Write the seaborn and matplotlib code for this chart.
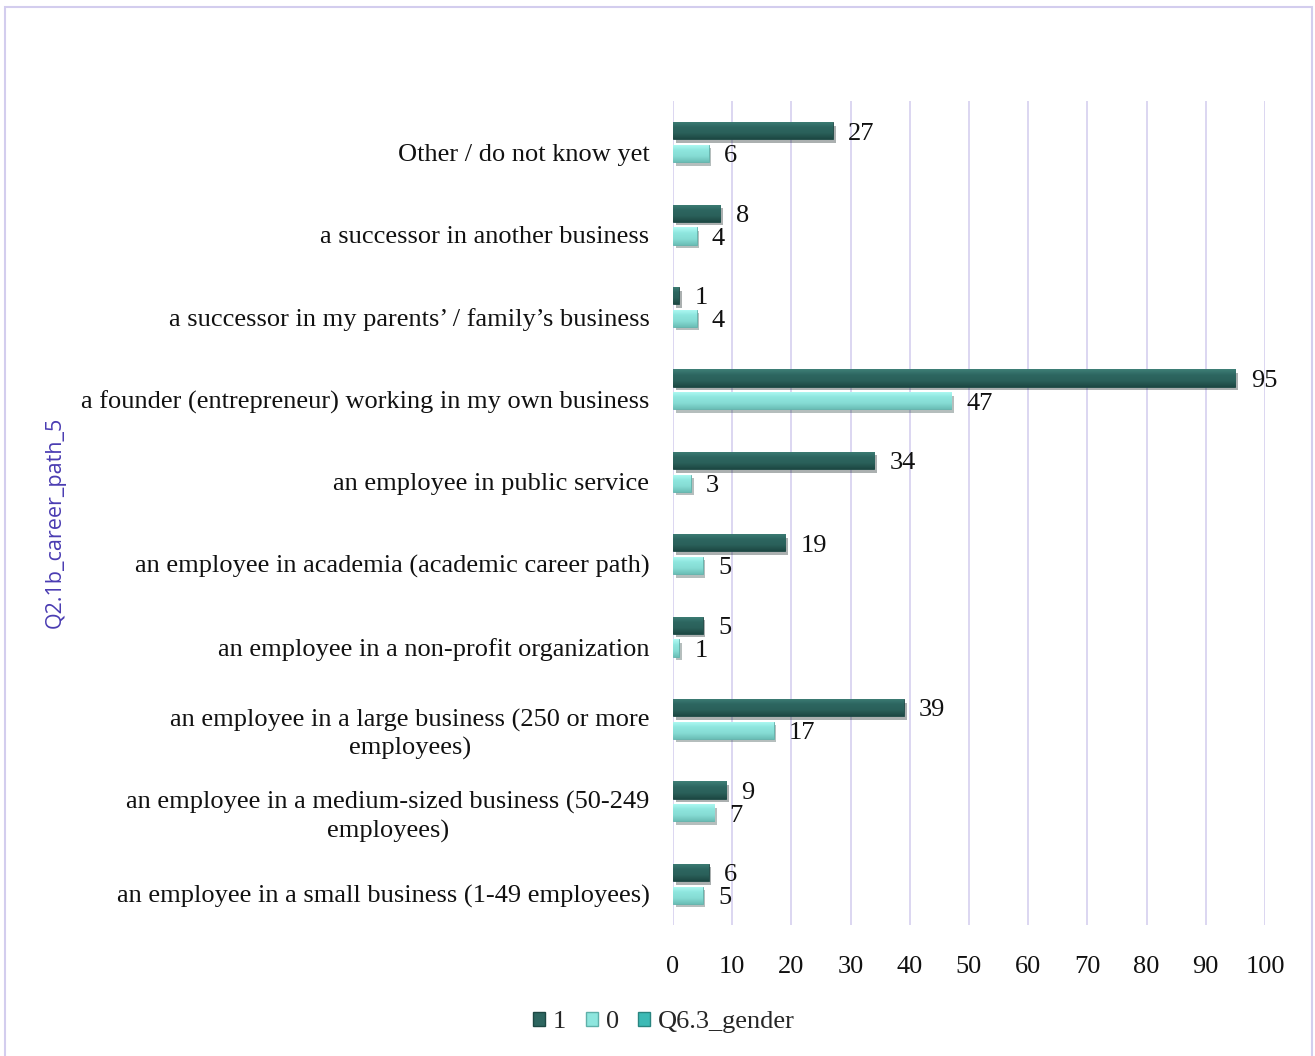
import matplotlib
matplotlib.use("Agg")
import matplotlib.pyplot as plt
import matplotlib.patheffects as pe
import matplotlib.transforms as mtransforms
from matplotlib.colors import LinearSegmentedColormap
from matplotlib.patches import Rectangle, Patch
import numpy as np
import seaborn as sns
import pandas as pd

# Career path categories (top to bottom) and counts per gender code
categories = [
    "Other / do not know yet",
    "a successor in another business",
    "a successor in my parents\u2019 / family\u2019s business",
    "a founder (entrepreneur) working in my own business",
    "an employee in public service",
    "an employee in academia (academic career path)",
    "an employee in a non-profit organization",
    "an employee in a large business (250 or more\nemployees)",
    "an employee in a medium-sized business (50-249\nemployees)",
    "an employee in a small business (1-49 employees)",
]
gender_1 = [27, 8, 1, 95, 34, 19, 5, 39, 9, 6]
gender_0 = [6, 4, 4, 47, 3, 5, 1, 17, 7, 5]
x_ticks = [0, 10, 20, 30, 40, 50, 60, 70, 80, 90, 100]

df = pd.DataFrame({
    "career": categories * 2,
    "count": gender_1 + gender_0,
    "gender": ["1"] * len(categories) + ["0"] * len(categories),
})

dark = "#2d6660"
light = "#8ee6de"
mid = "#3dbab5"
fs = 19

# Vertical shading used to give the bars a bevelled look
shade = {
    "1": LinearSegmentedColormap.from_list("d", ["#3f7f77", "#2d6660", "#2a605a", "#1d4843"]),
    "0": LinearSegmentedColormap.from_list("l", ["#b2fbf5", "#8ee6de", "#86dcd4", "#6cbfb7"]),
}

sns.set_theme(style="white")
plt.rcParams["font.family"] = ["Liberation Serif", "DejaVu Serif"]

fig = plt.figure(figsize=(13.15, 10.56), dpi=100)
ax = fig.add_axes([673 / 1315, 1 - 925 / 1056, (1265 - 673) / 1315, (925 - 101) / 1056])

sns.barplot(
    data=df, y="career", x="count", hue="gender", hue_order=["1", "0"],
    order=categories, orient="h", palette={"1": dark, "0": light}, saturation=1,
    width=0.55, gap=0.24, ax=ax, legend=False,
    edgecolor="#1f4a46", linewidth=0.6,
)

ylim = ax.get_ylim()
grad = np.linspace(0, 1, 64).reshape(-1, 1)
shadow = [pe.SimplePatchShadow(offset=(2, -2.5), alpha=0.35), pe.Normal()]
for cont, key, col in zip(ax.containers, ["1", "0"], ["#1d4844", "#5fb0a9"]):
    for bar in cont:
        bar.set_edgecolor(col)
        bar.set_path_effects(shadow)
        x0, y0, w, h = bar.get_x(), bar.get_y(), bar.get_width(), bar.get_height()
        im = ax.imshow(grad, cmap=shade[key], aspect="auto", origin="upper",
                       extent=(x0, x0 + w, y0 + h, y0), zorder=bar.get_zorder() + 0.1,
                       interpolation="bilinear")
        im.set_clip_path(bar)
    for t in ax.bar_label(cont, padding=11, fontsize=fs, color="#111111"):
        dx, dy = t.xyann
        t.xyann = (dx, dy - 2)
ax.set_ylim(ylim)

ax.set_xlim(0, 100)
ax.set_xticks(x_ticks)
ax.grid(axis="x", color="#d6d0ef", linewidth=1.2)
ax.grid(axis="y", visible=False)
ax.set_axisbelow(True)
for s in ax.spines.values():
    s.set_visible(False)
ax.tick_params(axis="x", length=0, pad=22, labelsize=fs, colors="#111111")
ax.tick_params(axis="y", length=0, pad=17, labelsize=fs, colors="#111111")
shift_down = mtransforms.ScaledTranslation(0, -10 / 100, fig.dpi_scale_trans)
for lbl in ax.get_yticklabels():
    lbl.set_multialignment("center")
    lbl.set_linespacing(1.3)
    lbl.set_transform(lbl.get_transform() + shift_down)
ax.set_xlabel("")
ax.set_ylabel("")

fig.text(55 / 1315, 1 - 522 / 1056, "Q2.1b_career_path_5", rotation=90,
         ha="center", va="center", fontsize=15.5, color="#4a3cb2",
         family=["Open Sans", "DejaVu Sans"])

handles = [
    Patch(facecolor=dark, edgecolor="#1d4844", label="1"),
    Patch(facecolor=light, edgecolor="#5fb0a9", label="0"),
    Patch(facecolor=mid, edgecolor="#2a8580", label="Q6.3_gender"),
]
fig.legend(handles=handles, loc="center", bbox_to_anchor=(664 / 1315, 1 - 1022 / 1056),
           ncol=3, frameon=False, fontsize=fs, handlelength=0.45, handleheight=0.45,
           handletextpad=0.3, columnspacing=0.75)

fig.patches.append(Rectangle((5 / 1315, -0.01), (1312 - 5) / 1315, 1.01 - 7 / 1056,
                             transform=fig.transFigure, fill=False,
                             edgecolor="#d3cdee", linewidth=1.5))

fig.savefig("out.png", dpi=100)
